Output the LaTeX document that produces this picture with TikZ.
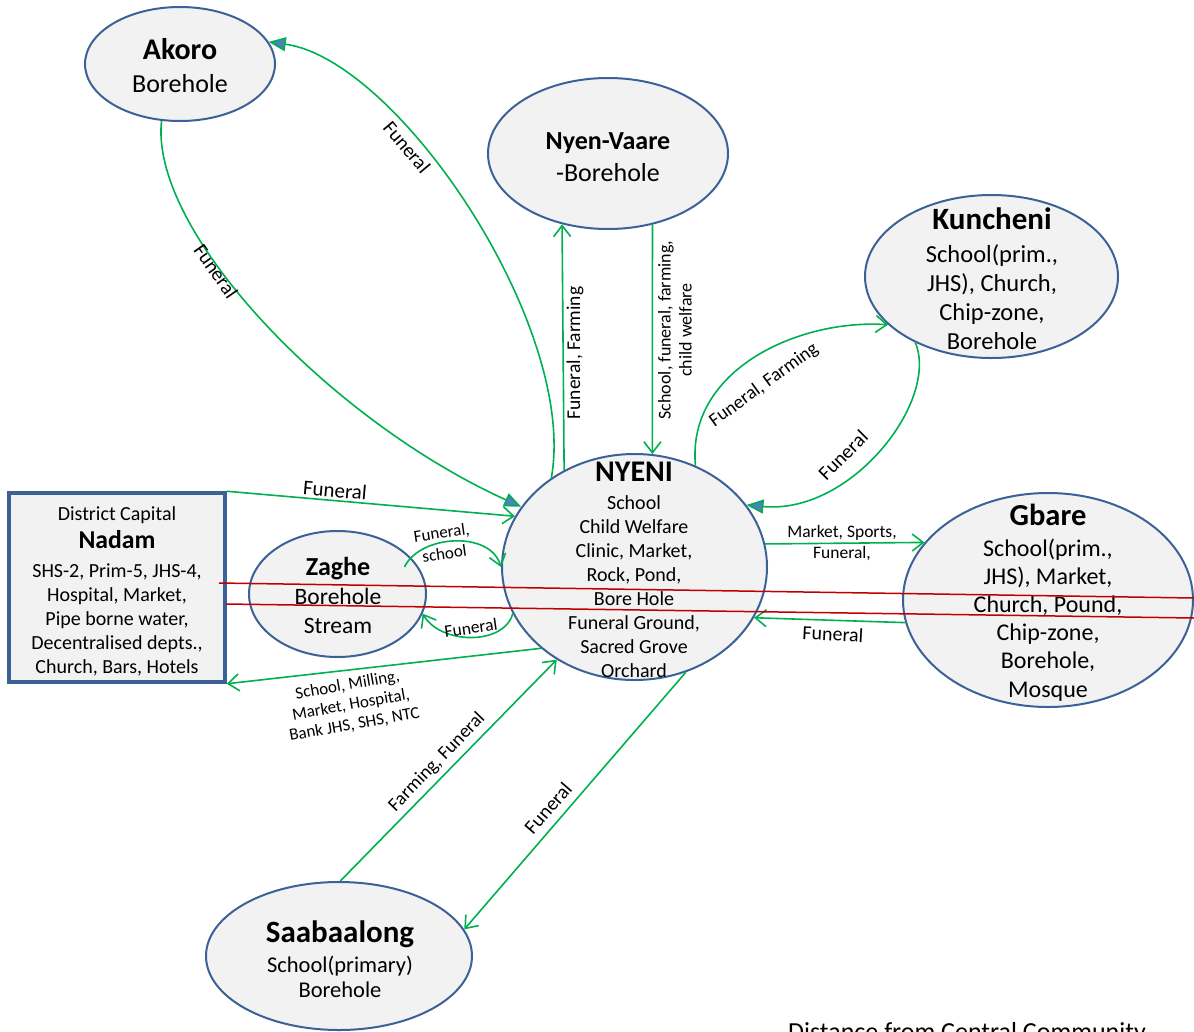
\documentclass[tikz,border=0pt]{standalone}
\usepackage{fontspec}
\setmainfont{Carlito}
\usetikzlibrary{shapes.geometric,arrows.meta,calc}
\definecolor{edgeblue}{HTML}{3B6196}
\definecolor{shade}{HTML}{F2F2F2}
\definecolor{flowgreen}{HTML}{00B050}
\definecolor{tipblue}{HTML}{4F81BD}
\definecolor{cutred}{HTML}{C00000}
\newcommand\fsz[2]{\fontsize{#1}{#2}\selectfont}
\newcommand\ttl[1]{\bfseries\fontsize{#1}{#1}\selectfont}
\begin{document}
\begin{tikzpicture}[x=1pt,y=-1pt,
  place/.style={ellipse, draw=edgeblue, line width=2pt, fill=shade, inner sep=0pt},
  capital/.style={rectangle, draw=edgeblue, line width=3.5pt, fill=shade, inner sep=0pt},
  vtext/.style={align=center, anchor=base, inner sep=0pt},
  flow/.style={draw=flowgreen, line width=1.6pt, -{Straight Barb[length=11pt,width=17pt]}},
  flowfill/.style={draw=flowgreen, line width=1.6pt, -{Triangle[length=17pt,width=14pt,fill=tipblue]}},
  lbl/.style={inner sep=0pt, align=center},
  cut/.style={draw=cutred, line width=1.5pt}]

\useasboundingbox (0,0) rectangle (1194,1031);
\clip (0,0) rectangle (1194,1031);

% settlements
\node[place, minimum width=190pt, minimum height=114pt] (akoro) at (180,64) {};
\node[place, minimum width=240pt, minimum height=151pt] (nvaare) at (608,153.5) {};
\node[place, minimum width=253pt, minimum height=163pt] (kun) at (991.5,276.5) {};
\node[place, minimum width=265pt, minimum height=226pt] (nyeni) at (634.5,567) {};
\node[place, minimum width=290pt, minimum height=214pt] (gbare) at (1048,600) {};
\node[place, minimum width=177pt, minimum height=126pt] (zaghe) at (337.5,594) {};
\node[place, minimum width=266pt, minimum height=148pt] (saab) at (339,956) {};
\node[capital, minimum width=216pt, minimum height=189pt] (nadam) at (117,587.5) {};

% settlement texts (placed by the baseline of their last line)
\node[vtext, font=\fsz{26}{33}] (akoroT) at (180,92) {{\ttl{30}Akoro}\\Borehole};
\node[vtext, font=\fsz{26}{32}] (nvaareT) at (608,181) {{\ttl{26}Nyen-Vaare}\\-Borehole};
\node[vtext, font=\fsz{24.5}{29}] (kunT) at (992,349) {{\ttl{31}Kuncheni}\\[4pt]School(prim.,\\JHS), Church,\\Chip-zone,\\Borehole};
\node[vtext, font=\fsz{20}{24}] (nyeniT) at (634,677) {{\ttl{30}NYENI}\\[4pt]School\\Child Welfare\\Clinic, Market,\\Rock, Pond,\\Bore Hole\\Funeral Ground,\\Sacred Grove\\Orchard};
\node[vtext, font=\fsz{24}{28.2}] (gbareT) at (1048,697) {{\ttl{30.5}Gbare}\\[2pt]School(prim.,\\JHS), Market,\\Church, Pound,\\Chip-zone,\\Borehole,\\Mosque};
\node[vtext, font=\fsz{23.5}{29}] (zagheT) at (338,633) {{\ttl{26}Zaghe}\\Borehole\\Stream};
\node[vtext, font=\fsz{22.5}{25}] (saabT) at (340,997) {{\ttl{31}Saabaalong}\\[5pt]School(primary)\\Borehole};
\node[vtext, font=\fsz{20}{24}] (nadamT) at (117,673) {District Capital\\[4pt]{\ttl{25.7}Nadam}\\[5pt]SHS-2, Prim-5, JHS-4,\\Hospital, Market,\\Pipe borne water,\\Decentralised depts.,\\Church, Bars, Hotels};

% movements between the settlements
\draw[flowfill] (nyeni.133) .. controls +(27,-150) and +(130,18) .. (akoro.14);
\draw[flowfill] (akoro.-108) .. controls +(-12,110) and +(-192,-87) .. (nyeni.152);
\draw[flow] (nyeni.126.9) -- (nvaare.237.3);
\draw[flow] (nvaare.-58.6) -- (nyeni.81.6);
\draw[flow] (nyeni.59) .. controls +(-9,-96) and +(-89,-6) .. (kun.205);
\draw[flowfill] (kun.221) .. controls +(24,58) and +(105,10) .. (nyeni.29);
\draw[flow] (nadam.north east) -- (nyeni.157);
\draw[flow] (nyeni.221) -- (nadam.south east);
\draw[flow] ($(zaghe)+(67,-27)$) .. controls +(15,-32) and +(-11,-37) .. (nyeni.180);
\draw[flow] (nyeni.201) .. controls +(-9,32) and +(18,31) .. (zaghe.-13);
\draw[flow] (nyeni.10.5) -- (gbare.155);
\draw[flow] (gbare.189) -- (nyeni.-23);
\draw[flow] (saab.89) -- (nyeni.230);
\draw[flow] (nyeni.-64.6) -- (saab.12);

% movement labels
\node[lbl, font=\fsz{20}{22}, rotate=-50] (l1) at (407,147) {Funeral};
\node[lbl, font=\fsz{20}{22}, rotate=-55] (l2) at (216,271) {Funeral};
\node[lbl, font=\fsz{19.5}{22}, rotate=90] (l3) at (575,353) {Funeral, Farming};
\node[lbl, font=\fsz{18}{21}, rotate=90] (l4) at (675,330) {School, funeral, farming,\\child welfare};
\node[lbl, font=\fsz{19}{21}, rotate=36] (l5) at (764,385) {Funeral, Farming};
\node[lbl, font=\fsz{20}{22}, rotate=45] (l6) at (843,455) {Funeral};
\node[lbl, font=\fsz{21}{23}, rotate=-5] (l7) at (335,490) {Funeral};
\node[lbl, font=\fsz{17}{21}, rotate=8] (l8) at (443,543) {Funeral,\\school};
\node[lbl, font=\fsz{17.5}{20}, rotate=8] (l9) at (471,628) {Funeral};
\node[lbl, font=\fsz{17.5}{21}] (l10) at (842,543) {Market, Sports,\\Funeral,};
\node[lbl, font=\fsz{20}{22}, rotate=-3] (l11) at (833,634) {Funeral};
\node[lbl, font=\fsz{17}{20}, rotate=10] (l12) at (351,705) {School, Milling,\\Market, Hospital,\\Bank JHS, SHS, NTC};
\node[lbl, font=\fsz{19}{21}, rotate=46] (l13) at (437,762) {Farming, Funeral};
\node[lbl, font=\fsz{20}{22}, rotate=49] (l14) at (548,808) {Funeral};

% red cut lines
\draw[cut] (219,583) -- (1194,598);
\draw[cut] (226,604) -- (1194,618);

\node[anchor=base, inner sep=0pt, font=\fsz{26}{30}] (distance) at (967,1040) {Distance from Central Community};
\end{tikzpicture}
\end{document}
